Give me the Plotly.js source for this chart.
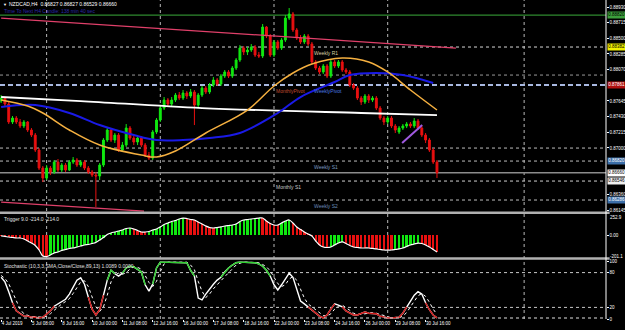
<!DOCTYPE html>
<html><head><meta charset="utf-8">
<script src="https://cdn.plot.ly/plotly-3.0.1.min.js"></script>
<style>html,body{margin:0;padding:0;background:#000;}#chart{width:625px;height:330px;}</style>
</head><body><div id="chart"></div>
<script>
// ---- candle data (H4 bars, index 0 = 4 Jul 2019 00:00) ----
const barOpen = [.87642,.87683,.87601,.87355,.87409,.87355,.87300,.87355,.87245,.87176,
.86971,.86724,.86587,.86724,.86670,.86806,.86697,.86765,.86697,.86806,
.86834,.86765,.86806,.86724,.86670,.86628,.86615,.86765,.87108,.87245,
.87108,.87176,.86971,.87039,.87272,.87135,.87081,.87135,.87039,.86902,
.86861,.87218,.87382,.87546,.87656,.87601,.87656,.87724,.87683,.87752,
.87711,.87766,.87587,.87724,.87820,.87766,.87861,.87930,.87875,.87985,
.88040,.87985,.88094,.88204,.88368,.88314,.88341,.88382,.88272,.88259,
.88656,.88533,.88272,.88451,.88368,.88478,.88779,.88834,.88615,.88505,
.88451,.88533,.88423,.88177,.88094,.88040,.88122,.87985,.88177,.88122,
.88177,.88067,.88040,.87861,.87820,.87683,.87629,.87711,.87656,.87683,
.87546,.87409,.87355,.87409,.87300,.87218,.87272,.87300,.87327,.87300,
.87368,.87272,.87176,.87108,.86971,.86806];
const barClose = [.87683,.87601,.87355,.87409,.87355,.87300,.87355,.87245,.87176,.86971,
.86724,.86587,.86724,.86670,.86806,.86697,.86765,.86697,.86806,.86834,
.86765,.86806,.86724,.86670,.86628,.86615,.86765,.87108,.87245,.87108,
.87176,.86971,.87039,.87272,.87135,.87081,.87135,.87039,.86902,.86861,
.87218,.87382,.87546,.87656,.87601,.87656,.87724,.87683,.87752,.87711,
.87766,.87587,.87724,.87820,.87766,.87861,.87930,.87875,.87985,.88040,
.87985,.88094,.88204,.88368,.88314,.88341,.88382,.88272,.88259,.88656,
.88533,.88272,.88451,.88368,.88478,.88779,.88834,.88615,.88505,.88451,
.88533,.88423,.88177,.88094,.88040,.88122,.87985,.88177,.88122,.88177,
.88067,.88040,.87861,.87820,.87683,.87629,.87711,.87656,.87683,.87546,
.87409,.87355,.87409,.87300,.87245,.87272,.87300,.87327,.87300,.87368,
.87272,.87176,.87108,.86971,.86806,.86660];
const barHigh = [.87724,.87697,.87629,.87437,.87437,.87396,.87382,.87368,.87272,.87204,
.86998,.86752,.86765,.86752,.86834,.86848,.86793,.86793,.86834,.86875,
.86861,.86834,.86834,.86752,.86697,.86670,.86793,.87135,.87286,.87272,
.87204,.87204,.87081,.87327,.87300,.87176,.87163,.87163,.87067,.86944,
.87245,.87409,.87587,.87697,.87683,.87697,.87752,.87766,.87793,.87779,
.87807,.87793,.87752,.87848,.87848,.87889,.87971,.87957,.88012,.88067,
.88067,.88122,.88231,.88409,.88396,.88382,.88423,.88409,.88314,.88697,
.88670,.88560,.88478,.88478,.88505,.88820,.88916,.88862,.88642,.88546,
.88560,.88560,.88451,.88204,.88122,.88149,.88149,.88204,.88204,.88204,
.88204,.88094,.88067,.87889,.87848,.87711,.87738,.87738,.87711,.87711,
.87574,.87437,.87437,.87437,.87327,.87300,.87327,.87355,.87355,.87409,
.87396,.87300,.87204,.87135,.86998,.86834];
const barLow = [.87615,.87574,.87327,.87327,.87327,.87272,.87272,.87218,.87149,.86944,
.86697,.86532,.86560,.86628,.86642,.86670,.86670,.86670,.86683,.86779,
.86738,.86738,.86697,.86642,.86601,.86190,.86560,.86738,.87081,.87081,
.87067,.86944,.86944,.87012,.87108,.87039,.87039,.87012,.86875,.86834,
.86834,.87190,.87355,.87519,.87560,.87574,.87629,.87656,.87656,.87670,
.87683,.87313,.87560,.87697,.87738,.87738,.87834,.87848,.87848,.87957,
.87957,.87957,.88067,.88177,.88272,.88272,.88314,.88245,.88231,.88231,
.88505,.88245,.88245,.88341,.88341,.88451,.88752,.88588,.88478,.88423,
.88423,.88396,.88149,.88067,.88012,.88012,.87957,.87957,.88094,.88094,
.88040,.88012,.87834,.87793,.87656,.87587,.87601,.87615,.87629,.87519,
.87382,.87313,.87327,.87272,.87204,.87190,.87245,.87272,.87272,.87272,
.87245,.87149,.87067,.86944,.86779,.86587];
const barIdx = barOpen.map((_, i) => i);

// ---- moving averages (read points) ----
const maOrangeIdx = [0,7,11,18,26,37,41,46,54,65,72,77,82,90,97,102,108,115];
const maOrange = [.87656,.87574,.87478,.87245,.87039,.86902,.86875,.86957,.87204,.87519,.87848,.88026,.88149,.88231,.88177,.88040,.87793,.87519];
const maBlueIdx = [0,9,18,26,35,41,48,55,63,73,79,88,92,99,106,114];
const maBlue = [.87560,.87587,.87478,.87313,.87176,.87108,.87108,.87135,.87204,.87478,.87697,.87903,.87998,.88026,.87998,.87889];
const maWhiteIdx = [0,21,53,95,115];
const maWhite = [.87697,.87642,.87546,.87478,.87450];

// ---- trend lines ----
const trendUpperIdx = [0,120];
const trendUpper = [.88779,.88368];
const trendLowerIdx = [0,37.7];
const trendLower = [.86258,.86135];
const purpleIdx = [105.8,111.1];
const purpleLine = [.87067,.87313];

// ---- horizontal levels ----
const levelPrice = [0.88820,0.88382,0.87998,0.87861,0.86998,0.86820,0.86660,0.86546,0.86286];
const levelBoxText = ['0.88820','0.88382',null,'0.87861',null,'0.86820','0.86660','0.86546','0.86286'];
const pivotLabelText = ['Weekly R1','MonthlyPivot','WeeklyPivot','Weekly S1','Monthly S1','Weekly S2'];
const pivotLabelIdx = [82,72,82,82,72,82];
const pivotLabelPrice = [0.88382,0.87861,0.87861,0.86820,0.86546,0.86286];

// ---- axis ticks ----
const priceTicks = [0.88930,0.887155,0.88501,0.882865,0.88072,0.87643,0.874285,0.87214,0.869995,0.86356,0.861415];
const priceTickText = ['0.88930','0.88715','0.88500','0.88285','0.88070','0.87645','0.87430','0.87215','0.87000','0.86360','0.86145'];
const timeTickIdx = [0,8,16,24,32,40,48,56,64,72,80,88,96,104,112];
const timeTickText = ['4 Jul 2019','5 Jul 08:00','8 Jul 16:00','10 Jul 00:00','11 Jul 08:00','12 Jul 16:00','16 Jul 00:00','17 Jul 08:00','18 Jul 16:00','22 Jul 00:00','23 Jul 08:00','24 Jul 16:00','26 Jul 00:00','29 Jul 08:00','30 Jul 16:00'];
const weekGridIdx = [12,42,72,102,138];

// ---- Trigger oscillator ----
const trigger = [-10,-15,-21,-26,-31,-31,-41,-62,-83,-108,
-155,-217,-222,-206,-186,-175,-160,-150,-139,-134,
-124,-114,-103,-98,-88,-77,-52,-26,5,21,
31,41,52,67,72,62,46,31,31,36,
52,62,83,108,124,139,150,165,175,170,
160,155,134,114,93,77,72,77,83,93,
98,103,114,139,155,160,165,170,175,175,
144,119,103,103,124,144,155,124,83,57,
31,10,-10,-62,-103,-124,-129,-124,-103,-83,
-72,-88,-108,-124,-129,-134,-134,-134,-139,-144,
-150,-155,-155,-155,-150,-144,-134,-119,-103,-93,
-83,-88,-103,-124,-150,-175];

// ---- Stochastic ----
const stochMain = [72,64,47,28,14,9,5,5,3,3,
2,3,9,14,22,26,29,34,43,55,
67,71,60,38,17,7,16,41,67,84,
78,74,79,88,91,90,86,81,59,48,
60,88,98,98,98,98,98,98,98,97,
84,74,36,33,43,52,60,67,72,81,
88,93,97,98,98,98,98,97,95,91,
84,74,59,50,59,69,79,72,50,31,
26,21,16,10,5,2,7,17,26,24,
21,14,10,7,7,9,12,10,10,9,
5,3,2,2,2,3,10,21,31,41,
47,43,28,16,7,2];
const stochSignal = [75,70,61,46,30,17,9,6,4,4,
3,3,5,9,15,21,26,30,35,44,
55,64,66,56,38,21,13,21,41,64,
76,79,77,80,86,90,89,86,75,63,
56,65,82,95,98,98,98,98,98,98,
93,85,65,48,37,43,52,60,66,73,
80,87,93,96,98,98,98,98,97,94,
90,83,72,61,56,59,69,73,67,51,
36,26,21,16,10,6,5,9,17,22,
24,20,15,10,8,8,9,10,11,10,
8,6,3,2,2,2,5,11,21,31,
40,44,39,29,17,8];

// ---------- build ----------
const FONT = 'Liberation Sans, Arial, sans-serif';
const FS = 4.5;
const GREEN = '#10e810', RED = '#e81010';

const trigColors = trigger.map((v, i) => (i > 0 && v > trigger[i - 1]) ? GREEN : RED);
const near = (arr, test) => arr.map((v, i) => (test(v) || (i > 0 && test(arr[i - 1])) || (i < arr.length - 1 && test(arr[i + 1]))) ? v : null);
const stochHigh = near(stochMain, v => v >= 80);
const stochLow = near(stochMain, v => v <= 20);

const traces = [
  {type:'candlestick', x:barIdx, open:barOpen, high:barHigh, low:barLow, close:barClose, xaxis:'x', yaxis:'y',
   increasing:{line:{color:GREEN,width:1},fillcolor:GREEN}, decreasing:{line:{color:RED,width:1},fillcolor:RED},
   whiskerwidth:0, hoverinfo:'skip', showlegend:false},
  {type:'scatter', mode:'lines', x:trendUpperIdx, y:trendUpper, line:{color:'#e0406a',width:1.2}, yaxis:'y', showlegend:false},
  {type:'scatter', mode:'lines', x:trendLowerIdx, y:trendLower, line:{color:'#e0406a',width:1.2}, yaxis:'y', showlegend:false},
  {type:'scatter', mode:'lines', x:maWhiteIdx, y:maWhite, line:{color:'#ffffff',width:1.8,shape:'spline'}, yaxis:'y', showlegend:false},
  {type:'scatter', mode:'lines', x:maBlueIdx, y:maBlue, line:{color:'#1a1ae6',width:2,shape:'spline'}, yaxis:'y', showlegend:false},
  {type:'scatter', mode:'lines', x:maOrangeIdx, y:maOrange, line:{color:'#f5b040',width:1.5,shape:'spline'}, yaxis:'y', showlegend:false},
  {type:'scatter', mode:'lines', x:purpleIdx, y:purpleLine, line:{color:'#a05ae0',width:2}, yaxis:'y', showlegend:false},
  {type:'bar', x:barIdx, y:trigger, marker:{color:trigColors,line:{width:0}}, width:0.62, yaxis:'y2', showlegend:false},
  {type:'scatter', mode:'lines', x:barIdx, y:trigger, line:{color:'#ffffff',width:1.2,shape:'spline'}, yaxis:'y2', showlegend:false},
  {type:'scatter', mode:'lines', x:barIdx, y:stochSignal, line:{color:'#ffffff',width:1,dash:'dot'}, yaxis:'y3', showlegend:false},
  {type:'scatter', mode:'lines', x:barIdx, y:stochMain, line:{color:'#ffffff',width:1.4}, yaxis:'y3', showlegend:false},
  {type:'scatter', mode:'lines', x:barIdx, y:stochHigh, line:{color:'#30d030',width:1.4}, connectgaps:false, yaxis:'y3', showlegend:false},
  {type:'scatter', mode:'lines', x:barIdx, y:stochLow, line:{color:'#d01818',width:1.4}, connectgaps:false, yaxis:'y3', showlegend:false}
];

// paper y from pixel y (plot area 3..319)
const py = y => 1 - (y - 3) / 316;

const levelStyle = [
  {color:'#2f8a2f', width:1.2, dash:'solid'},
  {color:'#d8d8d8', width:1, dash:'dot'},
  {color:'#9a9a9a', width:1, dash:'dot'},
  {color:'#a8b8e0', width:2, dash:'5px,3px'},
  {color:'#bdbdbd', width:1, dash:'dot'},
  {color:'#bdbdbd', width:1, dash:'dot'},
  {color:'#8c8c8c', width:1.5, dash:'solid'},
  {color:'#d0d0d0', width:1, dash:'dot'},
  {color:'#bdbdbd', width:1, dash:'dot'}
];
const boxStyle = [
  {bg:'#3ca03c', fg:'#000'}, {bg:'#f0f000', fg:'#000'}, null, {bg:'#b01010', fg:'#fff'}, null,
  {bg:'#3c6ea8', fg:'#fff'}, {bg:'#ffffff', fg:'#000'}, {bg:'#f0f0f0', fg:'#000'}, {bg:'#3c6ea8', fg:'#fff'}
];
const pivotColors = ['#d8d0a0','#c04a30','#4a7ae0','#7a9ac0','#c8c8c8','#6a8ab8'];

const shapes = [];
weekGridIdx.forEach(ix => shapes.push({type:'line', xref:'x', yref:'paper', x0:ix, x1:ix, y0:0, y1:1.01, layer:'below', line:{color:'#b8b8b8',width:1,dash:'dot'}}));
levelPrice.forEach((p, k) => shapes.push({type:'line', xref:'paper', yref:'y', x0:0, x1:1, y0:p, y1:p, layer:'below', line:levelStyle[k]}));
shapes.push({type:'line', xref:'paper', yref:'y3', x0:0, x1:1, y0:80, y1:80, layer:'below', line:{color:'#c8c8c8',width:1,dash:'dot'}});
shapes.push({type:'line', xref:'paper', yref:'y3', x0:0, x1:1, y0:20, y1:20, layer:'below', line:{color:'#c8c8c8',width:1,dash:'dot'}});
shapes.push({type:'line', xref:'paper', yref:'paper', x0:0, x1:1, y0:py(318), y1:py(318), line:{color:'#e0e0e0',width:1,dash:'dot'}});
shapes.push({type:'line', xref:'paper', yref:'paper', x0:0, x1:1.006, y0:py(212.7), y1:py(212.7), line:{color:'#b0b0b0',width:2.5}});
shapes.push({type:'line', xref:'paper', yref:'paper', x0:0, x1:1.006, y0:py(258.6), y1:py(258.6), line:{color:'#b0b0b0',width:2.5}});
shapes.push({type:'line', xref:'paper', yref:'paper', x0:1, x1:1, y0:py(319), y1:py(-3), line:{color:'#ffffff',width:1}});

const annotations = [];
const txt = (o) => Object.assign({showarrow:false, font:{family:FONT,size:FS,color:'#ffffff'}}, o);
annotations.push(txt({xref:'paper', yref:'paper', x:0.002, y:py(4), xanchor:'left', yanchor:'middle', text:'▼', font:{family:FONT,size:4,color:'#ffffff'}}));
annotations.push(txt({xref:'paper', yref:'paper', x:0.011, y:py(4), xanchor:'left', yanchor:'middle', text:'NZDCAD,H4  0.86827 0.86827 0.86529 0.86660', font:{family:FONT,size:5,color:'#ffffff'}}));
annotations.push(txt({xref:'paper', yref:'paper', x:0.004, y:py(10.5), xanchor:'left', yanchor:'middle', text:'Time To Next H4 Candle: 138 min 40 sec', font:{family:FONT,size:5,color:'#2a2aa8'}}));
annotations.push(txt({xref:'paper', yref:'paper', x:0.004, y:py(218.5), xanchor:'left', yanchor:'middle', text:'Trigger 9.0 -214.0 -214.0', font:{family:FONT,size:5,color:'#e0e0e0'}}));
annotations.push(txt({xref:'paper', yref:'paper', x:0.004, y:py(266), xanchor:'left', yanchor:'middle', text:'Stochastic (10,3,3,SMA,Close/Close,89,13) 1.0089 0.0000', font:{family:FONT,size:5,color:'#e0e0e0'}}));
annotations.push(txt({xref:'paper', yref:'paper', x:1, xshift:2, y:py(217.5), xanchor:'left', yanchor:'middle', text:'252.9'}));
annotations.push(txt({xref:'paper', yref:'paper', x:1, xshift:2, y:py(256), xanchor:'left', yanchor:'middle', text:'-201.1'}));
levelPrice.forEach((p, k) => {
  if (!levelBoxText[k]) return;
  annotations.push(txt({xref:'paper', yref:'y', x:1, xshift:1, y:p, xanchor:'left', yanchor:'middle', text:levelBoxText[k],
    bgcolor:boxStyle[k].bg, borderpad:0.3, font:{family:FONT,size:FS,color:boxStyle[k].fg}}));
});
pivotLabelText.forEach((t, k) => annotations.push(txt({xref:'x', yref:'y', x:pivotLabelIdx[k], y:pivotLabelPrice[k], xanchor:'left', yanchor:'top', yshift:-0.5, text:t,
  font:{family:FONT,size:5,color:pivotColors[k]}})));

const axBase = {showgrid:false, zeroline:false, showline:false, fixedrange:true};
const yTick = {ticks:'outside', ticklen:1.5, tickcolor:'#ffffff', tickfont:{family:FONT,size:FS,color:'#ffffff'}};
const layout = {
  width:625, height:330,
  margin:{l:0, r:19, t:3, b:11, pad:0, autoexpand:false},
  paper_bgcolor:'#000000', plot_bgcolor:'#000000',
  font:{family:FONT, size:FS, color:'#ffffff'},
  showlegend:false, bargap:0,
  xaxis:Object.assign({}, axBase, {domain:[0,1], range:[-0.3,159.6], anchor:'y3', rangeslider:{visible:false},
    tickvals:timeTickIdx, ticktext:timeTickText, tickangle:0, ticklabelposition:'outside right', ticks:'outside', ticklen:2, tickcolor:'#ffffff',
    tickfont:{family:FONT,size:FS,color:'#ffffff'}}),
  yaxis:Object.assign({}, axBase, yTick, {domain:[py(212),1], range:[0.86122,0.88985], side:'right', anchor:'x',
    tickvals:priceTicks, ticktext:priceTickText}),
  yaxis2:Object.assign({}, axBase, yTick, {domain:[py(258),py(214)], range:[-237.4,216.7], side:'right', anchor:'x',
    tickvals:[0], ticktext:['0.00']}),
  yaxis3:Object.assign({}, axBase, yTick, {domain:[0,py(261)], range:[0,100], side:'right', anchor:'x',
    tickvals:[100,80,20,0], ticktext:['100','80','20','0']}),
  shapes:shapes, annotations:annotations
};

Plotly.newPlot('chart', traces, layout, {staticPlot:true, displayModeBar:false});
</script>
</body></html>
